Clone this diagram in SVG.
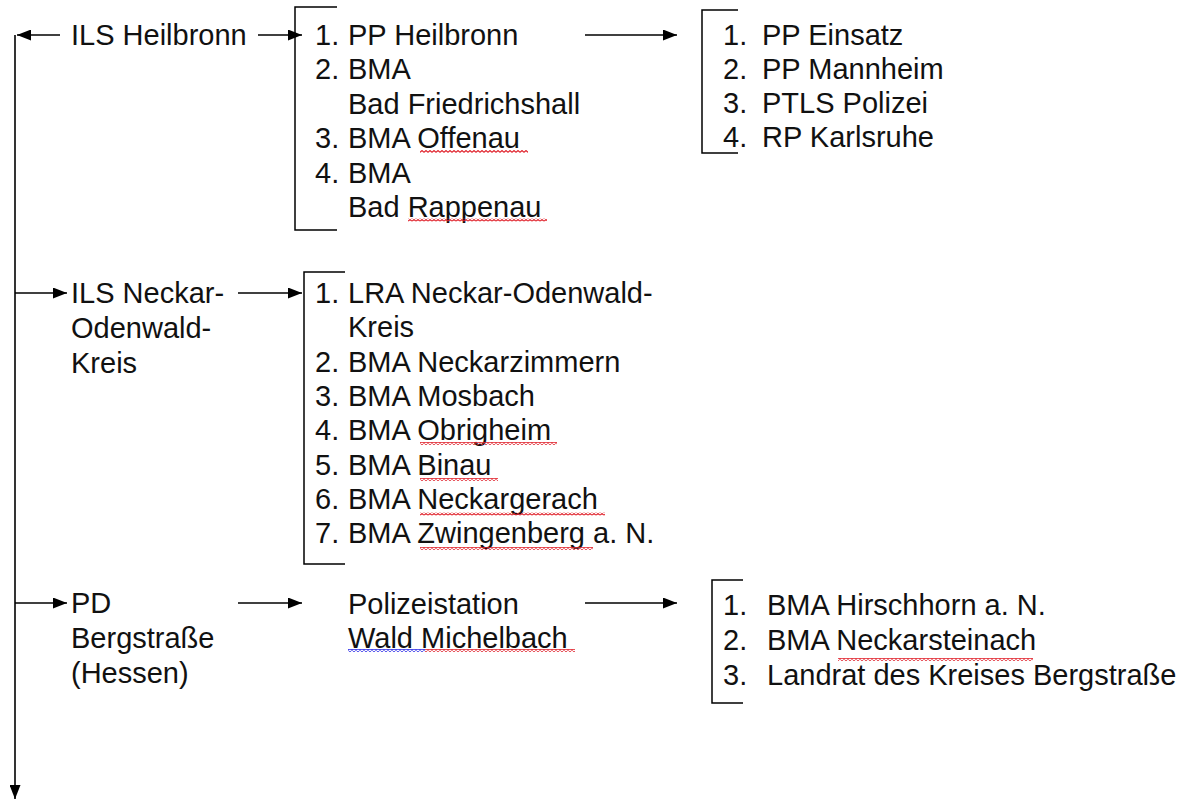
<svg xmlns="http://www.w3.org/2000/svg" width="1193" height="800" viewBox="0 0 1193 800">
<style>
text{font-family:"Liberation Sans",Arial,sans-serif;font-size:29px;fill:#111}
.ln{stroke:#000;stroke-width:1.6;fill:none}
.br{stroke:#000;stroke-width:1.5;fill:none}
.wr{fill:url(#wavyR)}
.wb{fill:url(#wavyB)}
</style>
<defs>
<marker id="ah" viewBox="0 0 14 11" refX="14" refY="5.5" markerWidth="14" markerHeight="11" markerUnits="userSpaceOnUse" orient="auto">
<path d="M0,0 L14,5.5 L0,11 z" fill="#000"/>
</marker>
<pattern id="wavyR" width="4" height="3" patternUnits="userSpaceOnUse">
<path d="M0,2.4 L2,0.6 L4,2.4" stroke="#e0202a" stroke-width="1.2" fill="none"/>
</pattern>
<pattern id="wavyB" width="4" height="3" patternUnits="userSpaceOnUse">
<path d="M0,2.4 L2,0.6 L4,2.4" stroke="#2a2ae8" stroke-width="1.2" fill="none"/>
</pattern>
</defs>

<g id="connectors">
<path class="ln" d="M15,35 V799" marker-end="url(#ah)"/>
<path class="ln" d="M60,35 H17" marker-end="url(#ah)"/>
<path class="ln" d="M258,35 H302" marker-end="url(#ah)"/>
<path class="ln" d="M585,35 H677" marker-end="url(#ah)"/>
<path class="ln" d="M15,293 H67" marker-end="url(#ah)"/>
<path class="ln" d="M238,293 H302" marker-end="url(#ah)"/>
<path class="ln" d="M15,603 H67" marker-end="url(#ah)"/>
<path class="ln" d="M238,603 H302" marker-end="url(#ah)"/>
<path class="ln" d="M585,603 H677" marker-end="url(#ah)"/>
</g>

<g id="ils-heilbronn">
<text x="71" y="45">ILS Heilbronn</text>
</g>

<g id="list-heilbronn">
<path class="br" d="M337,7 H295 V230 H337"/>
<text x="315" y="45">1.</text><text x="348" y="45">PP Heilbronn</text>
<text x="315" y="79">2.</text><text x="348" y="79">BMA</text>
<text x="348" y="113.5">Bad Friedrichshall</text>
<text x="315" y="148">3.</text><text x="348" y="148">BMA Offenau</text>
<text x="315" y="182.5">4.</text><text x="348" y="182.5">BMA</text>
<text x="348" y="217">Bad Rappenau</text>
<rect class="wr" x="420" y="150" width="108" height="3"/>
<rect class="wr" x="408" y="218.5" width="139" height="3"/>
</g>

<g id="list-polizei">
<path class="br" d="M738,10 H702 V153 H738"/>
<text x="723" y="45">1.</text><text x="762" y="45">PP Einsatz</text>
<text x="723" y="79">2.</text><text x="762" y="79">PP Mannheim</text>
<text x="723" y="113">3.</text><text x="762" y="113">PTLS Polizei</text>
<text x="723" y="147">4.</text><text x="762" y="147">RP Karlsruhe</text>
</g>

<g id="ils-nok">
<text x="71" y="303">ILS Neckar-</text>
<text x="71" y="338">Odenwald-</text>
<text x="71" y="372.5">Kreis</text>
</g>

<g id="list-nok">
<path class="br" d="M345,272 H304 V564 H345"/>
<text x="315" y="303">1.</text><text x="348" y="303">LRA Neckar-Odenwald-</text>
<text x="348" y="337.3">Kreis</text>
<text x="315" y="371.6">2.</text><text x="348" y="371.6">BMA Neckarzimmern</text>
<text x="315" y="405.9">3.</text><text x="348" y="405.9">BMA Mosbach</text>
<text x="315" y="440.2">4.</text><text x="348" y="440.2">BMA Obrigheim</text>
<text x="315" y="474.5">5.</text><text x="348" y="474.5">BMA Binau</text>
<text x="315" y="508.8">6.</text><text x="348" y="508.8">BMA Neckargerach</text>
<text x="315" y="543.1">7.</text><text x="348" y="543.1">BMA Zwingenberg a. N.</text>
<rect class="wr" x="420" y="442" width="137" height="3"/>
<rect class="wr" x="420" y="478" width="78" height="3"/>
<rect class="wr" x="420" y="512.5" width="185" height="3"/>
<rect class="wr" x="420" y="547" width="173" height="3"/>
</g>

<g id="pd-bergstrasse">
<text x="71" y="613">PD</text>
<text x="71" y="648">Bergstraße</text>
<text x="71" y="683">(Hessen)</text>
</g>

<g id="polizeistation">
<text x="348" y="614">Polizeistation</text>
<text x="348" y="648">Wald Michelbach</text>
<rect class="wb" x="348" y="649" width="77" height="3"/>
<rect class="wr" x="425" y="649" width="150" height="3"/>
</g>

<g id="list-bergstrasse">
<path class="br" d="M743,580 H712 V703 H743"/>
<text x="723" y="615">1.</text><text x="767" y="615">BMA Hirschhorn a. N.</text>
<text x="723" y="650">2.</text><text x="767" y="650">BMA Neckarsteinach</text>
<text x="723" y="685">3.</text><text x="767" y="685">Landrat des Kreises Bergstraße</text>
<rect class="wr" x="838" y="658" width="195" height="3"/>
</g>
</svg>
